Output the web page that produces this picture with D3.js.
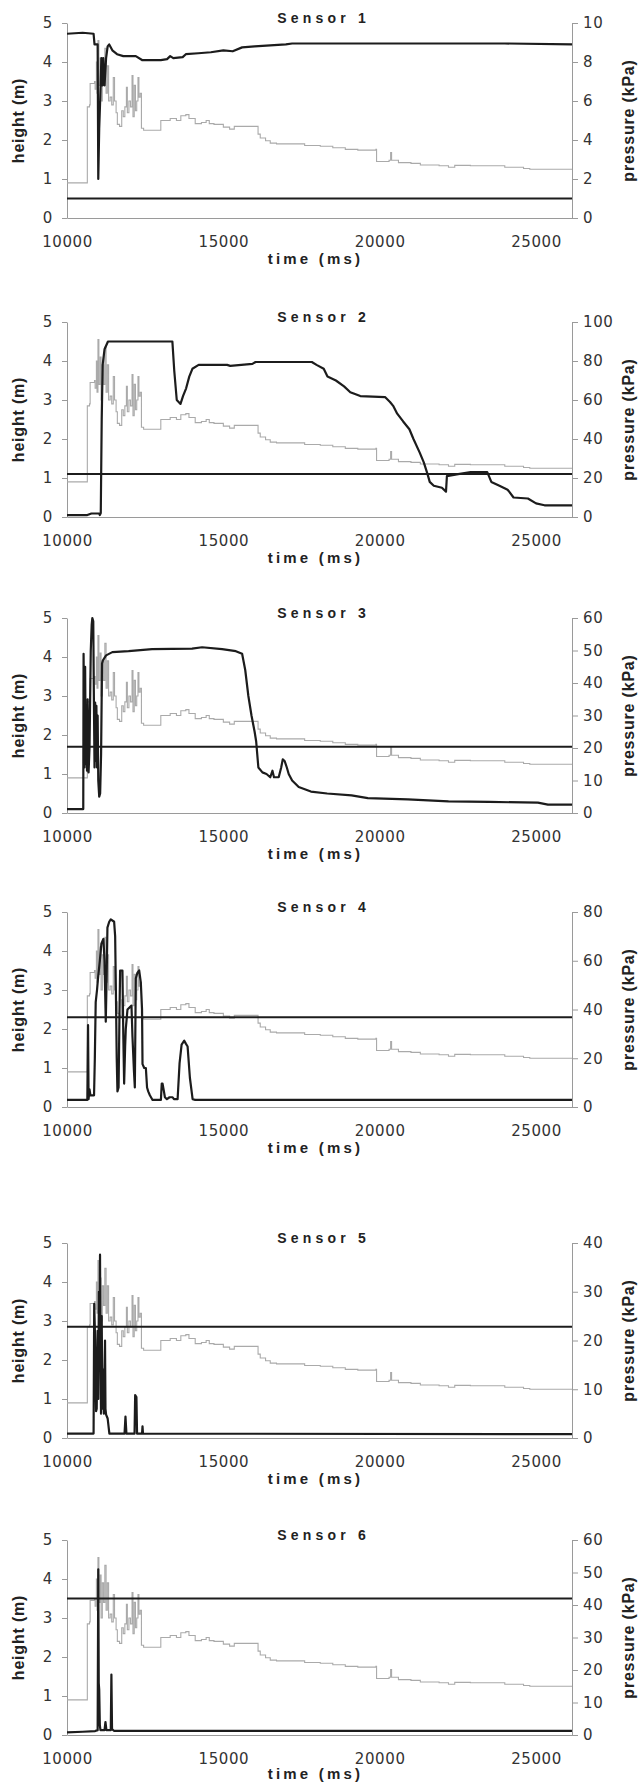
<!DOCTYPE html>
<meta charset="utf-8">
<style>
body { margin: 0; background: #fff; }
.tick text { font-family: "DejaVu Sans", sans-serif; font-size: 15px; fill: #333; letter-spacing: 0.6px; }
.axis path, .axis line { stroke: #9a9a9a; stroke-width: 1px; }
.title { font: bold 14px "Liberation Sans", Arial, sans-serif; letter-spacing: 4.2px; fill: #222; }
.label { font: bold 16px "Liberation Sans", Arial, sans-serif; fill: #222; letter-spacing: 0.8px; }
.xlabel { font: bold 15px "Liberation Sans", Arial, sans-serif; fill: #222; letter-spacing: 3.2px; }
.level { fill: none; stroke: #aaa; stroke-width: 1.1px; }
.pressure { fill: none; stroke: #1c1c1c; stroke-width: 2.2px; stroke-linejoin: round; }
.sensor { stroke: #1c1c1c; stroke-width: 2px; }
</style>
<svg width="644" height="1783"></svg>
<script src="https://d3js.org/d3.v7.min.js"></script>
<script>
// titles, sensor heights (m) and right-axis ranges (kPa)
var titles = ["Sensor 1", "Sensor 2", "Sensor 3", "Sensor 4", "Sensor 5", "Sensor 6"];
var sensorHeight = [0.5, 1.1, 1.7, 2.3, 2.85, 3.5];
var pressureMax = [10, 100, 60, 80, 40, 60];
var pressureStep = [2, 20, 10, 20, 10, 10];
var timeTicks = [10000, 15000, 20000, 25000];
var heightTicks = [0, 1, 2, 3, 4, 5];

// water level (m), grey line, same in every panel  [time ms, height]
var waterLevel = [[10000,0.9],[10630,0.9],[10650,2.85],[10720,2.9],[10740,3.45],[10880,3.5],[10900,3.3],[10940,4.0],[10960,3.2],[10990,4.55],[11020,3.4],[11060,4.1],[11090,3.0],[11130,3.9],[11170,3.4],[11210,4.35],[11250,3.2],[11290,3.9],[11330,3.0],[11380,3.1],[11430,2.9],[11480,3.6],[11520,3.0],[11570,2.7],[11610,2.4],[11680,2.35],[11750,2.75],[11800,2.6],[11850,2.85],[11900,3.35],[11930,2.7],[11980,3.0],[12030,2.85],[12080,3.65],[12110,2.6],[12150,3.4],[12190,2.75],[12230,3.0],[12270,3.6],[12300,3.1],[12340,3.2],[12380,2.3],[12450,2.25],[12950,2.25],[13000,2.5],[13300,2.55],[13500,2.5],[13640,2.62],[13800,2.65],[13900,2.55],[14100,2.42],[14300,2.45],[14450,2.5],[14550,2.42],[14700,2.4],[15000,2.33],[15200,2.28],[15350,2.35],[16080,2.35],[16110,2.15],[16180,2.05],[16350,1.98],[16500,1.92],[16700,1.9],[17300,1.9],[17600,1.86],[18100,1.84],[18500,1.8],[18900,1.76],[19300,1.74],[19880,1.76],[19900,1.45],[20300,1.48],[20350,1.68],[20380,1.48],[20600,1.42],[21000,1.4],[21300,1.36],[21900,1.34],[22200,1.3],[22400,1.35],[22900,1.34],[23600,1.34],[24000,1.3],[24600,1.27],[24800,1.25],[26150,1.25]];

// pressure (kPa), black line, [time ms, kPa]
var pressure1 = [[10000,9.45],[10500,9.5],[10850,9.45],[10880,8.9],[10980,8.9],[11000,2.0],[11030,4.6],[11060,6.0],[11100,8.2],[11130,6.8],[11160,8.2],[11200,6.8],[11250,8.2],[11300,8.8],[11350,8.9],[11450,8.6],[11600,8.4],[11800,8.3],[12200,8.3],[12400,8.1],[13000,8.1],[13200,8.15],[13300,8.3],[13400,8.2],[13700,8.25],[13800,8.4],[14200,8.45],[14600,8.5],[15000,8.6],[15300,8.55],[15600,8.75],[16000,8.8],[16500,8.85],[17000,8.9],[17200,8.95],[20000,8.95],[24000,8.95],[26150,8.9]];
var pressure2 = [[10000,1],[10650,1],[10780,1.8],[11030,1.8],[11050,1],[11080,2],[11110,50],[11140,78],[11200,86],[11310,90],[13370,90],[13430,75],[13510,60],[13630,58],[13710,62],[13810,66],[13910,72],[14010,76],[14210,78],[15120,78],[15220,77.5],[15930,78.5],[16030,79.5],[17830,79.5],[17980,78],[18210,76],[18330,72],[18600,70],[18860,67],[19060,64],[19380,62],[20170,61.5],[20330,59],[20430,57],[20560,53],[20750,49],[20950,45],[21080,40],[21280,33],[21410,28],[21530,22],[21600,18],[21730,16],[21990,15],[22120,13],[22150,21],[22510,22],[22910,23],[23440,23],[23570,18],[23830,16],[24090,14],[24140,13],[24280,10],[24740,9.5],[25000,7],[25270,6],[26150,6]];
var pressure3 = [[10000,1.2],[10520,1.2],[10530,49],[10560,14],[10580,45],[10600,15],[10620,30],[10640,13],[10660,35],[10690,12.5],[10720,20],[10760,50],[10790,58],[10810,60],[10840,59],[10860,35],[10880,14],[10900,34],[10920,16],[10940,33],[10960,14],[10980,30],[11000,10],[11030,5],[11060,6],[11090,18],[11120,46],[11150,47],[11250,48.5],[11450,49.5],[11970,49.8],[12720,50.4],[14000,50.6],[14320,51],[14960,50.4],[15400,49.8],[15600,49],[15700,44],[15800,36],[15900,30],[16000,25],[16050,22],[16120,14],[16250,12.5],[16380,12],[16500,11],[16570,13],[16620,11],[16770,11],[16850,14],[16900,16.5],[16960,16],[17030,14],[17090,12],[17200,10],[17410,8],[17800,6.6],[18320,6],[19100,5.4],[19620,4.6],[20900,4.2],[22200,3.6],[23500,3.4],[25060,3.2],[25380,2.6],[26150,2.6]];
var pressure4 = [[10000,2.9],[10650,2.9],[10673,33.6],[10690,3.2],[10720,7.2],[10750,4.8],[10865,4.8],[10890,20],[10918,43],[10960,48],[10993,53],[11050,60],[11100,67],[11164,69],[11200,60],[11240,35],[11270,55],[11293,73.6],[11350,76],[11400,77],[11507,76],[11540,70],[11560,51],[11590,20],[11613,6.4],[11650,8],[11680,40],[11699,56],[11773,56],[11800,30],[11827,9.6],[11860,25],[11880,32],[11934,40],[12062,41.6],[12094,28.8],[12140,15],[12169,8],[12201,52.8],[12250,55],[12308,56],[12361,51],[12400,40],[12415,17.6],[12470,16],[12522,16],[12560,8],[12597,6.4],[12650,4.8],[12736,2.9],[13003,2.9],[13030,9.6],[13056,9.6],[13100,6.4],[13131,4],[13195,3.2],[13280,4],[13377,4],[13420,3.2],[13537,3.2],[13600,18],[13665,25.6],[13750,27.2],[13800,26],[13857,24.8],[13930,12],[14017,3.2],[14100,2.9],[26150,2.9]];
var pressure5 = [[10000,0.9],[10850,0.9],[10870,27.5],[10900,20],[10930,5.5],[10950,6],[10980,22],[11000,8],[11020,30],[11040,14],[11056,37.6],[11070,18],[11088,5],[11110,25],[11130,6],[11160,14],[11180,5],[11216,20],[11230,6],[11250,4.8],[11300,4],[11355,0.9],[11840,0.9],[11870,4.4],[11900,0.9],[12160,0.9],[12180,8.8],[12220,8.4],[12240,0.9],[12400,0.9],[12415,2.4],[12430,0.9],[26150,0.8]];
var pressure6 = [[10000,0.8],[10500,1.0],[10900,1.2],[10980,1.5],[11000,51],[11015,16],[11030,14],[11050,3],[11070,1.5],[11200,1.5],[11230,4],[11260,1.5],[11400,1.5],[11420,18.6],[11440,1.8],[11500,1.3],[26150,1.3]];
var pressures = [pressure1, pressure2, pressure3, pressure4, pressure5, pressure6];

// layout of the stacked panels
var panelTop = [23, 322, 618, 912, 1243, 1540],
    panelH = 195,
    left = 67, right = 572;

var svg = d3.select("svg");

var x = d3.scaleLinear().domain([10000, 26150]).range([left, right]);

titles.forEach(function(title, i) {
  var top = panelTop[i], bottom = top + panelH;
  var g = svg.append("g");

  var y = d3.scaleLinear().domain([0, 5]).range([bottom, top]);
  var yp = d3.scaleLinear().domain([0, pressureMax[i]]).range([bottom, top]);

  g.append("g").attr("class", "axis")
      .attr("transform", "translate(0," + bottom + ")")
      .call(d3.axisBottom(x).tickValues(timeTicks).tickSize(0).tickPadding(18).tickFormat(d3.format("d")));

  g.append("g").attr("class", "axis")
      .attr("transform", "translate(" + left + ",0)")
      .call(d3.axisLeft(y).tickValues(heightTicks).tickSize(5).tickSizeOuter(0).tickPadding(9)
        .tickFormat(d3.format("d")));

  g.append("g").attr("class", "axis")
      .attr("transform", "translate(" + right + ",0)")
      .call(d3.axisRight(yp).tickValues(d3.range(0, pressureMax[i] + 0.01, pressureStep[i]))
        .tickSize(6).tickSizeOuter(0).tickPadding(5).tickFormat(d3.format("d")));

  g.append("path")
      .datum(waterLevel)
      .attr("class", "level")
      .attr("d", d3.line().curve(d3.curveStepAfter)
        .x(function(d) { return x(d[0]); })
        .y(function(d) { return y(d[1]); }));

  g.append("line")
      .attr("class", "sensor")
      .attr("x1", x.range()[0]).attr("x2", x.range()[1])
      .attr("y1", y(sensorHeight[i])).attr("y2", y(sensorHeight[i]));

  g.append("path")
      .datum(pressures[i])
      .attr("class", "pressure")
      .attr("d", d3.line()
        .x(function(d) { return x(d[0]); })
        .y(function(d) { return yp(d[1]); }));

  g.append("text").attr("class", "title")
      .attr("x", (left + right) / 2 + 4).attr("y", top)
      .attr("text-anchor", "middle").text(title);

  g.append("text").attr("class", "xlabel")
      .attr("x", (left + right) / 2 - 4).attr("y", bottom + (i === 5 ? 44 : 46))
      .attr("text-anchor", "middle").text("time (ms)");

  g.append("text").attr("class", "label")
      .attr("transform", "translate(24," + (top + bottom) / 2 + ") rotate(-90)")
      .attr("text-anchor", "middle").text("height (m)");

  g.append("text").attr("class", "label")
      .attr("transform", "translate(634," + (top + bottom) / 2 + ") rotate(-90)")
      .attr("text-anchor", "middle").text("pressure (kPa)");
});
</script>
